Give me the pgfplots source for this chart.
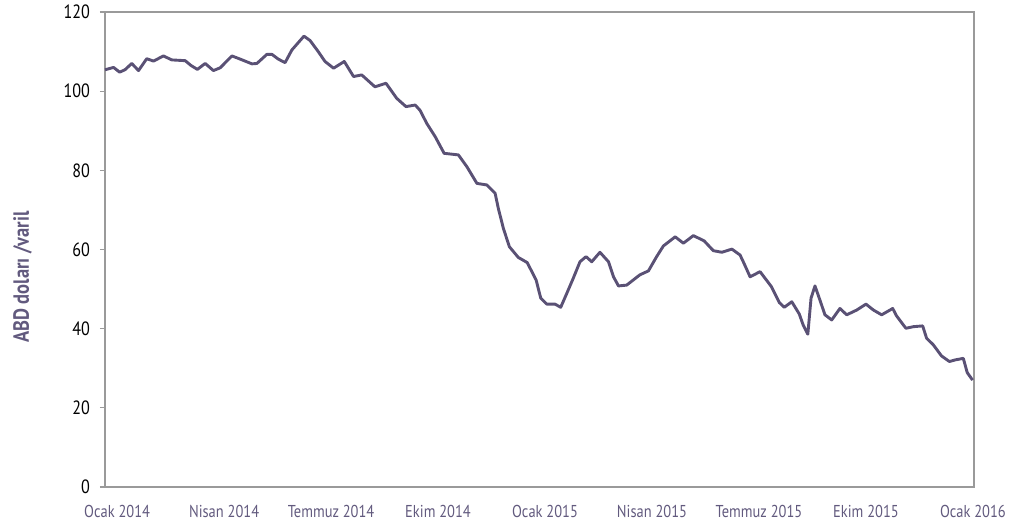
\documentclass[border=0pt]{standalone}
\usepackage{fontspec}
\setmainfont[FakeStretch=0.84, BoldFont={PT Sans Bold}, BoldFeatures={FakeStretch=0.84}]{PT Sans}
\usepackage{pgfplots}
\usepackage{pgfplotstable}
\pgfplotsset{compat=1.18}
\definecolor{oilline}{HTML}{5A5175}
\definecolor{framegray}{HTML}{9A9A9A}
\definecolor{labelpurple}{HTML}{625A7E}

% weekly Brent price, x in months from Jan 2014
\pgfplotstableread{
m v
-0.34 105.4
-0.10 106.0
0.07 104.8
0.22 105.4
0.41 107.0
0.60 105.2
0.83 108.2
1.02 107.6
1.30 108.9
1.53 107.9
1.91 107.7
2.07 106.5
2.25 105.5
2.47 107.0
2.70 105.2
2.89 105.9
3.22 108.9
3.45 108.1
3.78 106.9
3.92 107.0
4.20 109.3
4.34 109.3
4.52 108.1
4.71 107.2
4.90 110.4
5.24 113.9
5.41 112.8
5.64 110.0
5.83 107.5
6.07 105.8
6.37 107.5
6.63 103.7
6.86 104.1
7.23 101.1
7.54 102.0
7.84 98.2
8.10 96.1
8.36 96.5
8.50 95.1
8.68 91.9
8.92 88.5
9.17 84.3
9.57 83.9
9.81 80.9
10.09 76.7
10.37 76.3
10.60 74.2
10.69 70.4
10.83 65.4
11.00 60.7
11.25 58.0
11.50 56.7
11.75 52.3
11.88 47.7
12.05 46.2
12.28 46.2
12.44 45.4
12.59 48.5
12.79 52.7
12.98 56.9
13.15 58.2
13.31 56.9
13.54 59.3
13.78 56.9
13.92 53.1
14.06 50.8
14.29 51.0
14.66 53.6
14.90 54.6
15.13 58.2
15.32 60.9
15.65 63.2
15.88 61.6
16.16 63.5
16.46 62.2
16.72 59.7
16.96 59.3
17.24 60.1
17.47 58.6
17.58 56.5
17.75 53.1
18.03 54.4
18.35 50.6
18.57 46.6
18.71 45.4
18.92 46.8
19.13 43.7
19.24 40.9
19.37 38.6
19.46 47.7
19.57 50.8
19.71 47.2
19.85 43.5
20.04 42.2
20.27 45.1
20.46 43.5
20.74 44.7
21.00 46.2
21.21 44.7
21.44 43.5
21.75 45.1
21.86 43.2
22.12 40.1
22.33 40.5
22.59 40.7
22.70 37.6
22.89 35.9
23.12 33.1
23.34 31.7
23.50 32.1
23.73 32.5
23.84 28.9
23.99 27.0
}\brent

\begin{document}
\begin{tikzpicture}
\begin{axis}[
    at={(0,0)}, anchor=south west,
    width=434.5pt, height=237.5pt,
    scale only axis,
    xmin=-0.34, xmax=24.03,
    ymin=0, ymax=120,
    ytick={0,20,...,120},
    xtick={0,3,...,24},
    xticklabels={Ocak 2014,Nisan 2014,Temmuz 2014,Ekim 2014,Ocak 2015,Nisan 2015,Temmuz 2015,Ekim 2015,Ocak 2016},
    axis line style={framegray, line width=0.7pt},
    x tick style={draw=none},
    y tick style={framegray, line width=0.6pt},
    ytick pos=left,
    tick align=outside,
    major tick length=2.5pt,
    /pgf/number format/assume math mode=true,
    yticklabel style={font=\fontsize{9.6}{11}\selectfont, text=black, xshift=-1.5pt},
    xticklabel style={font=\fontsize{8.6}{10}\selectfont, text=labelpurple, yshift=-3pt},
    ylabel={\bfseries ABD doları /varil},
    ylabel style={font=\fontsize{11}{13}\selectfont, text=labelpurple, at={(ticklabel* cs:0.442)}, yshift=33pt},
    clip=false,
]
\addplot[oilline, line width=1.45pt, line join=round, mark=none] table[x=m, y=v] {\brent};
\end{axis}
\pgfresetboundingbox
\useasboundingbox (-52.5pt,-21.5pt) rectangle (461pt,243.5pt);
\end{tikzpicture}
\end{document}
